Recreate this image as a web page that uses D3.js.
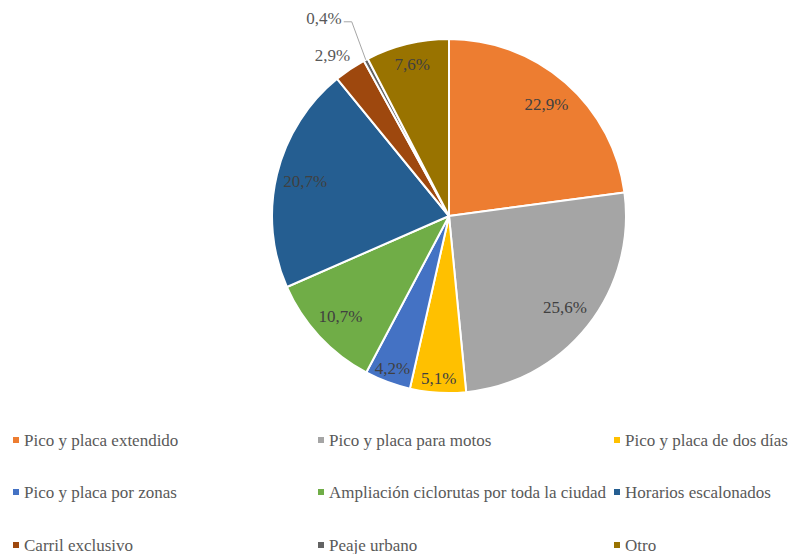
<!DOCTYPE html>
<html>
<head>
<meta charset="utf-8">
<script src="https://cdn.jsdelivr.net/npm/d3@7"></script>
<style>
  html, body { margin: 0; padding: 0; background: #fff; }
  svg { display: block; }
  text { font-family: "Liberation Serif", "Times New Roman", Tinos, "DejaVu Serif", serif; }
</style>
</head>
<body>
<svg id="chart" width="802" height="554"></svg>
<script>
// Medidas preferidas (porcentaje de respuestas)
const categories = [
  "Pico y placa extendido",
  "Pico y placa para motos",
  "Pico y placa de dos días",
  "Pico y placa por zonas",
  "Ampliación ciclorutas por toda la ciudad",
  "Horarios escalonados",
  "Carril exclusivo",
  "Peaje urbano",
  "Otro"
];
const values = [22.9, 25.6, 5.1, 4.2, 10.7, 20.7, 2.9, 0.4, 7.6];
const labels = ["22,9%", "25,6%", "5,1%", "4,2%", "10,7%", "20,7%", "2,9%", "0,4%", "7,6%"];
const colors = ["#ED7D31", "#A5A5A5", "#FFC000", "#4472C4", "#70AD47",
                "#255E91", "#9E480E", "#636363", "#997300"];

const svg = d3.select("#chart");
const cx = 449, cy = 216, R = 177;

const data = categories.map((c, i) => ({ name: c, value: values[i], label: labels[i], color: colors[i] }));

const pie = d3.pie().value(d => d.value).sort(null);
const arcs = pie(data);
const arc = d3.arc().innerRadius(0).outerRadius(R);

const g = svg.append("g").attr("transform", `translate(${cx},${cy})`);

g.selectAll("path.slice")
  .data(arcs)
  .join("path")
  .attr("class", "slice")
  .attr("d", arc)
  .attr("fill", d => d.data.color)
  .attr("stroke", "#fff")
  .attr("stroke-width", 2)
  .attr("stroke-linejoin", "round");

// Etiquetas de datos
const polar = (r, a) => [r * Math.sin(a), -r * Math.cos(a)];

arcs.forEach((d, i) => {
  const mid = (d.startAngle + d.endAngle) / 2;
  const share = d.data.value;
  if (share >= 3.5) {
    const r = share < 6 ? 163 : (share < 9 ? 156 : 148);
    const [x, y] = polar(r, mid);
    g.append("text")
      .attr("x", x).attr("y", y)
      .attr("text-anchor", "middle")
      .attr("dominant-baseline", "central")
      .attr("font-size", 17)
      .attr("fill", "#404040")
      .text(d.data.label);
  }
});

// Etiquetas exteriores para las porciones pequeñas
const small = arcs.filter(d => d.data.value < 3.5);
small.forEach(d => {
  const mid = (d.startAngle + d.endAngle) / 2;
  const edge = polar(R, mid);
  if (d.data.value >= 1) {
    const [x, y] = polar(R + 16, mid);
    g.append("text")
      .attr("x", x + 9).attr("y", y)
      .attr("text-anchor", "end")
      .attr("dominant-baseline", "central")
      .attr("font-size", 17)
      .attr("fill", "#595959")
      .text(d.data.label);
  } else {
    // Línea guía hacia la etiqueta
    const elbow = [edge[0] - 14, edge[1] - 38];
    const end = [elbow[0] - 8, elbow[1]];
    g.append("polyline")
      .attr("points", [edge, elbow, end].map(p => p.join(",")).join(" "))
      .attr("fill", "none")
      .attr("stroke", "#A6A6A6")
      .attr("stroke-width", 1);
    g.append("text")
      .attr("x", end[0] - 2).attr("y", end[1] - 3)
      .attr("text-anchor", "end")
      .attr("dominant-baseline", "central")
      .attr("font-size", 17)
      .attr("fill", "#595959")
      .text(d.data.label);
  }
});

// Leyenda en tres columnas
const colX = [16, 321, 617];
const rowY = [440, 492, 545];
const legend = svg.append("g");
data.forEach((d, i) => {
  const x = colX[i % 3], y = rowY[Math.floor(i / 3)];
  legend.append("rect")
    .attr("x", x - 3).attr("y", y - 3)
    .attr("width", 6).attr("height", 6)
    .attr("fill", d.color);
  legend.append("text")
    .attr("x", x + 8).attr("y", y)
    .attr("dominant-baseline", "central")
    .attr("font-size", 17)
    .attr("fill", "#595959")
    .text(d.name);
});
</script>
</body>
</html>
